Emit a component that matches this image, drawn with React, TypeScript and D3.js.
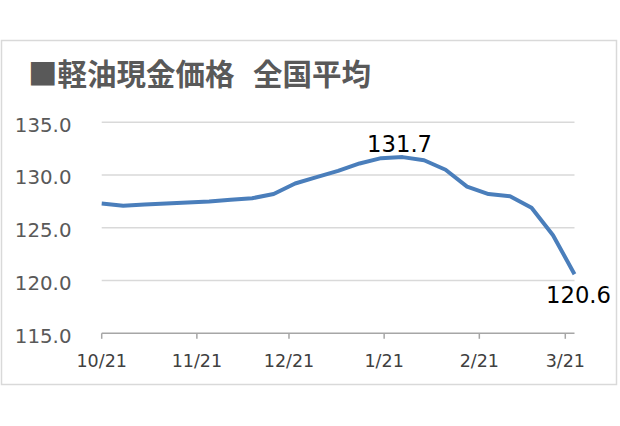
import React from "react";
import * as d3 from "d3";

const title = "■軽油現金価格";
const titleB = "全国平均";
const startDate = "2020-10-21";
const weeks = [0,1,2,3,4,5,6,7,8,9,10,11,12,13,14,15,16,17,18,19,20,21,22];
const prices = [127.3,127.1,127.2,127.3,127.4,127.5,127.65,127.8,128.2,129.2,129.8,130.4,131.1,131.6,131.7,131.4,130.5,128.9,128.2,128.0,126.9,124.3,120.6];
const yTicks = [115, 120, 125, 130, 135];
const xTickLabels = ["10/21","11/21","12/21","1/21","2/21","3/21"];
const xTickDates = ["2020-10-21","2020-11-21","2020-12-21","2021-01-21","2021-02-21","2021-03-21"];

export default function App() {
  const W = 620, H = 426;
  const parse = d3.timeParse("%Y-%m-%d");
  const start = parse(startDate)!;
  const dates = weeks.map((w) => d3.timeDay.offset(start, w * 7));
  const x = d3.scaleTime().domain([dates[0], dates[dates.length - 1]]).range([101.7, 574.5]);
  const y = d3.scaleLinear().domain([115, 135]).range([333.3, 122.3]);
  const data = dates.map((d, i) => ({ d, v: prices[i] }));
  const line = d3.line<{ d: Date; v: number }>().x((p) => x(p.d)).y((p) => y(p.v)).curve(d3.curveLinear);
  const maxV = d3.max(prices)!;
  const maxI = prices.lastIndexOf(maxV);
  const lastI = prices.length - 1;
  const [x0, x1] = x.range();
  const font = "'DejaVu Sans', sans-serif";
  return (
    <svg width={W} height={H} style={{ position: "absolute", left: 0, top: 0, background: "#fff" }}>
      <rect x={1.5} y={40.5} width={615} height={344} fill="#fff" stroke="#d9d9d9" strokeWidth={1.5} />
      <text x={28} y={85} fontFamily="'Noto Sans CJK JP', sans-serif" fontWeight="bold" fontSize={29.5} fill="#595959">
        {title}
        <tspan x={253}>{titleB}</tspan>
      </text>
      {yTicks.map((t) => (
        <g key={t}>
          {t !== 115 && <line x1={x0} x2={x1} y1={y(t)} y2={y(t)} stroke="#d9d9d9" strokeWidth={1.5} />}
          <text x={71.5} y={y(t) + 9.4} textAnchor="end" fontFamily={font} fontSize={19.8} fill="#595959">
            {t.toFixed(1)}
          </text>
        </g>
      ))}
      <line x1={x0} x2={x1} y1={y(115)} y2={y(115)} stroke="#a6a6a6" strokeWidth={1.5} />
      {xTickDates.map((s, i) => {
        const xx = x(parse(s)!);
        return (
          <g key={s}>
            <line x1={xx} x2={xx} y1={y(115)} y2={y(115) + 5.5} stroke="#a6a6a6" strokeWidth={1.5} />
            <text x={xx} y={367.3} textAnchor="middle" fontFamily={font} fontSize={17.5} fill="#404040">
              {xTickLabels[i]}
            </text>
          </g>
        );
      })}
      <path d={line(data)!} fill="none" stroke="#4a7ebb" strokeWidth={4} strokeLinejoin="round" strokeLinecap="butt" />
      <text x={x(dates[maxI]) - 3} y={y(maxV) - 5} textAnchor="middle" fontFamily={font} fontSize={22.7} fill="#000">
        {maxV.toFixed(1)}
      </text>
      <text x={x(dates[lastI]) + 4} y={y(prices[lastI]) + 29} textAnchor="middle" fontFamily={font} fontSize={22.7} fill="#000">
        {prices[lastI].toFixed(1)}
      </text>
    </svg>
  );
}
